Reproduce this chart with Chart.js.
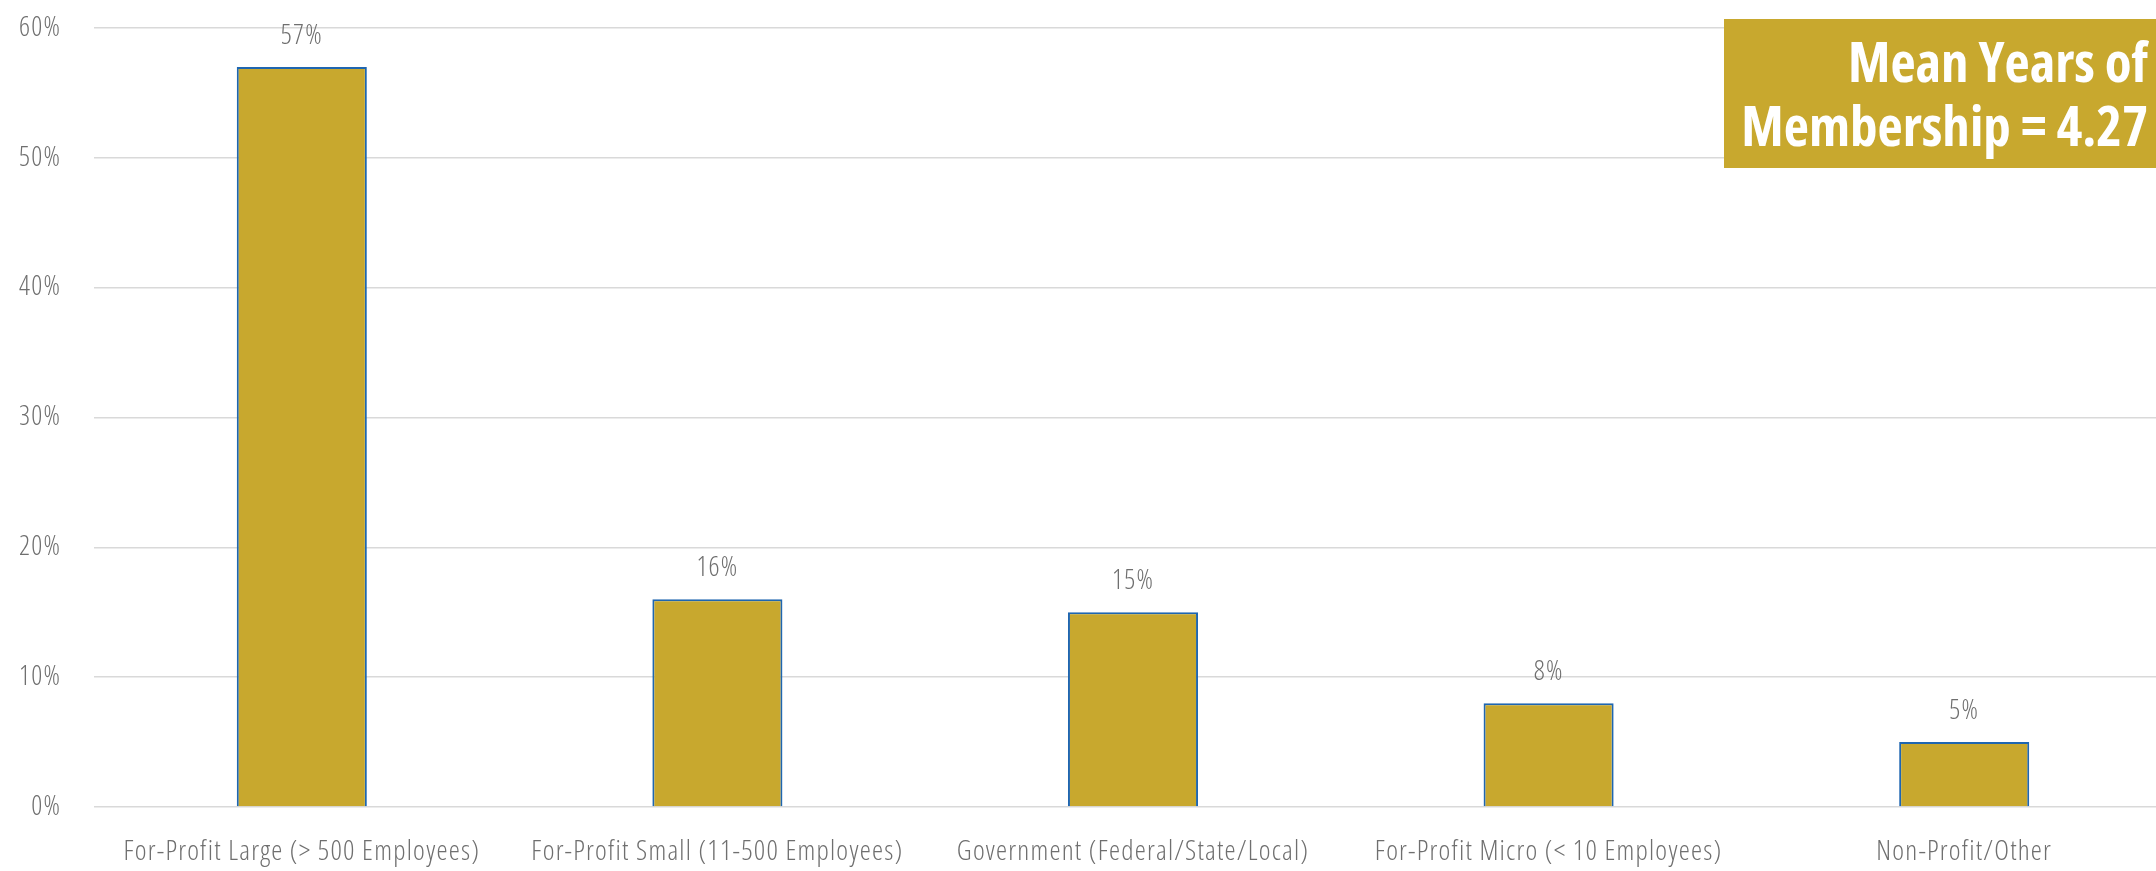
<!DOCTYPE html>
<html>
<head>
<meta charset="utf-8">
<script src="https://cdn.jsdelivr.net/npm/chart.js@4/dist/chart.umd.min.js"></script>
<style>
  html, body { margin: 0; padding: 0; background: #ffffff; overflow: hidden; }
  #wrap { position: relative; width: 2172px; height: 871px; }
  #note {
    position: absolute; right: 0; top: 19px; width: 448px; height: 149px;
    background: #C8A82E; color: #ffffff; box-sizing: border-box;
    padding: 10px 24px 0 0; text-align: right;
    font-family: 'Open Sans', sans-serif; font-stretch: 75%;
    font-weight: bold; font-size: 55px; line-height: 64px;
    white-space: nowrap;
  }
</style>
</head>
<body>
<div id="wrap">
  <canvas id="chart"></canvas>
  <div id="note">Mean Years of<br>Membership = 4.27</div>
</div>
<script>
// Share of members by organisation type (percent)
const categories = [
  'For-Profit Large (> 500 Employees)',
  'For-Profit Small (11-500 Employees)',
  'Government (Federal/State/Local)',
  'For-Profit Micro (< 10 Employees)',
  'Non-Profit/Other'
];
const shares = [57, 16, 15, 8, 5];
const yTickValues = [0, 10, 20, 30, 40, 50, 60];

const FONT = "'Open Sans', sans-serif";
const LIGHT_CONDENSED = '300 condensed';
const GREY = '#6f6f6f';
const TRACKING = '1.2px';

// Slightly open tracking for all chart text
const textTracking = {
  id: 'textTracking',
  beforeDraw(chart) { chart.ctx.letterSpacing = TRACKING; }
};

// Value labels above each bar
const barValueLabels = {
  id: 'barValueLabels',
  afterDatasetsDraw(chart) {
    const ctx = chart.ctx;
    const meta = chart.getDatasetMeta(0);
    ctx.save();
    ctx.letterSpacing = TRACKING;
    ctx.font = LIGHT_CONDENSED + ' 27px ' + FONT;
    ctx.fillStyle = GREY;
    ctx.textAlign = 'center';
    ctx.textBaseline = 'middle';
    meta.data.forEach((bar, i) => {
      ctx.fillText(shares[i] + '%', bar.x, bar.y - 31);
    });
    ctx.restore();
  }
};

new Chart(document.getElementById('chart'), {
  type: 'bar',
  data: {
    labels: categories,
    datasets: [{
      data: shares,
      backgroundColor: '#C8A82E',
      borderColor: '#1F66B0',
      borderWidth: 2,
      barPercentage: 0.313,
      categoryPercentage: 1.0
    }]
  },
  options: {
    responsive: true,
    maintainAspectRatio: false,
    animation: false,
    layout: { padding: { top: 28, right: 0, bottom: 0, left: 0 } },
    plugins: { legend: { display: false }, tooltip: { enabled: false } },
    scales: {
      x: {
        grid: { display: false, drawTicks: false },
        border: { display: false },
        ticks: {
          color: GREY,
          font: { family: FONT, size: 28, weight: LIGHT_CONDENSED },
          padding: 28,
          maxRotation: 0,
          autoSkip: false
        },
        afterFit(scale) { scale.height = 64; }
      },
      y: {
        min: 0,
        max: 60,
        afterBuildTicks(scale) { scale.ticks = yTickValues.map(v => ({ value: v })); },
        grid: { color: '#d9d9d9', lineWidth: 1.5, drawTicks: false },
        border: { display: false },
        ticks: {
          color: GREY,
          font: { family: FONT, size: 27, weight: LIGHT_CONDENSED },
          padding: 33,
          callback: v => v + '%'
        },
        afterFit(scale) {
          scale.width = 94;
          scale.paddingTop = 0;
          scale.paddingBottom = 0;
        }
      }
    }
  },
  plugins: [textTracking, barValueLabels]
});
</script>
</body>
</html>
